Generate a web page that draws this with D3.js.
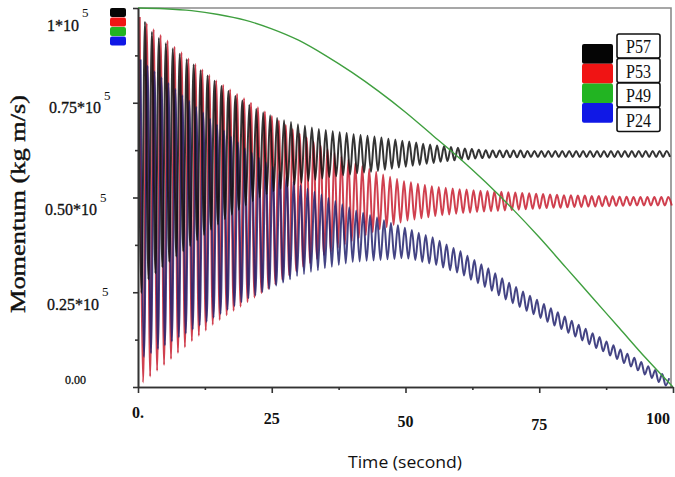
<!DOCTYPE html>
<html>
<head>
<meta charset="utf-8">
<script src="https://cdn.jsdelivr.net/npm/d3@7"></script>
<style>
  body { margin: 0; background: #fff; }
  svg { display: block; }
</style>
</head>
<body>
<div id="chart-area"></div>
<script>
// momentum in units of 10^5 kg m/s
const seriesNames = ["P57", "P53", "P49", "P24"];

// oscillating series: successive crests and troughs, one every halfPeriod seconds
const halfPeriod = 0.65;
const p57Start = 0;
const p57Values = [
  1.000, .248, .964, .284, .937, .300, .921, .316, .907, .330,
  .893, .344, .879, .358, .865, .372, .851, .387, .836, .401,
  .822, .415, .808, .429, .794, .443, .781, .455, .768, .468,
  .756, .479, .745, .490, .734, .500, .725, .509, .717, .517,
  .710, .523, .704, .529, .699, .534, .693, .539, .689, .544,
  .685, .547, .681, .550, .678, .554, .675, .556, .672, .559,
  .670, .561, .667, .564, .665, .566, .663, .568, .661, .570,
  .658, .573, .655, .576, .653, .579, .650, .581, .648, .584,
  .645, .586, .642, .589, .640, .591, .637, .594, .635, .596,
  .633, .598, .631, .600, .629, .601, .628, .603, .626, .604,
  .625, .605, .624, .606, .624, .606, .624, .606, .624, .606,
  .624, .606, .623, .607, .623, .607, .623, .607, .623, .607,
  .623, .607, .623, .607, .623, .607, .623, .607, .623, .607,
  .623, .607, .623, .607, .623, .607, .623, .607, .623, .607,
  .623, .607, .623, .607, .623, .607, .623, .607, .623, .607,
  .623, .607, .623, .607
];
const p53Start = 0.32;
const p53Values = [
  .976, .012, .960, .028, .944, .043, .929, .058, .914, .074,
  .898, .090, .883, .105, .867, .121, .852, .135, .838, .149,
  .823, .164, .809, .177, .797, .189, .785, .201, .773, .212,
  .762, .224, .750, .236, .738, .248, .727, .259, .715, .271,
  .703, .283, .691, .294, .680, .306, .668, .317, .658, .327,
  .647, .338, .637, .348, .627, .357, .618, .367, .609, .376,
  .600, .385, .591, .393, .583, .400, .576, .408, .568, .416,
  .561, .422, .555, .428, .549, .434, .543, .439, .540, .442,
  .536, .445, .533, .448, .530, .451, .528, .453, .526, .455,
  .524, .457, .522, .459, .521, .460, .519, .462, .518, .463,
  .517, .464, .516, .465, .515, .466, .514, .467, .513, .468,
  .512, .469, .511, .470, .510, .471, .509, .472, .508, .473,
  .507, .473, .506, .474, .506, .475, .505, .475, .505, .476,
  .504, .476, .504, .477, .503, .477, .503, .478, .502, .478,
  .502, .479, .501, .479, .501, .479, .501, .479, .501, .479,
  .501, .479, .501, .479
];
const p24Start = 0.48;
const p24Values = [
  .864, .079, .848, .089, .833, .100, .817, .110, .802, .120,
  .786, .131, .770, .141, .755, .152, .739, .162, .724, .172,
  .708, .183, .692, .193, .677, .204, .661, .214, .646, .224,
  .630, .234, .618, .242, .605, .251, .593, .259, .581, .268,
  .568, .276, .556, .284, .543, .293, .532, .298, .524, .304,
  .516, .308, .508, .313, .499, .317, .491, .322, .482, .326,
  .474, .330, .466, .331, .460, .333, .453, .334, .447, .335,
  .440, .337, .433, .338, .427, .340, .420, .339, .414, .335,
  .407, .330, .401, .326, .395, .322, .386, .315, .376, .308,
  .367, .302, .358, .294, .346, .283, .335, .274, .324, .264,
  .313, .254, .300, .242, .287, .231, .275, .221, .264, .211,
  .252, .201, .241, .192, .230, .182, .219, .172, .208, .162,
  .197, .153, .186, .143, .175, .133, .164, .123, .154, .113,
  .142, .103, .132, .094, .120, .083, .110, .074, .099, .063,
  .088, .054, .077, .044, .066, .033, .055, .024, .045, .013,
  .034, .004, .023
];

// smooth series
const p49Times = [0, 5, 10, 15, 20, 25, 30, 35, 40, 45, 50, 55, 60, 65, 70, 75, 80, 85, 90, 95, 100];
const p49Values = [1.0, .998, .993, .983, .968, .945, .915, .875, .83, .78, .725, .665, .605, .54, .47, .395, .315, .235, .155, .075, 0.0];

const xTicks = [0, 25, 50, 75, 100];
const xTickLabels = ["0.", "25", "50", "75", "100"];
const yTicks = [0, 0.25, 0.5, 0.75, 1];
const yTickLabels = ["0.00", "0.25*10", "0.50*10", "0.75*10", "1*10"];
const yTickPowers = ["", "5", "5", "5", "5"];

const lineColors = { P57: "#111111", P53: "#c81e30", P49: "#3f9f3f", P24: "#23236e" };
const swatchColors = { P57: "#050505", P53: "#f01414", P49: "#22b422", P24: "#1018e6" };

const toPoints = (start, values) =>
  values.map((v, i) => ({ t: start + i * halfPeriod, v }));

const drawChart = () => {
  const chartSize = { width: 675, height: 477 };
  const margin = { left: 138, right: 2, top: 8, bottom: 90 };
  const width = chartSize.width - (margin.left + margin.right);
  const height = chartSize.height - (margin.top + margin.bottom);

  const x = d3.scaleLinear().domain([0, 100]).range([0, width]);
  const y = d3.scaleLinear().domain([0, 1]).range([height, 0]);

  const svg = d3
    .select("#chart-area")
    .append("svg")
    .attr("width", chartSize.width)
    .attr("height", chartSize.height);

  const g = svg
    .append("g")
    .attr("transform", `translate(${margin.left}, ${margin.top})`);

  g.append("clipPath")
    .attr("id", "plot-clip")
    .append("rect")
    .attr("x", 0)
    .attr("y", -2)
    .attr("width", width)
    .attr("height", height + 2);

  // grey frame top and right
  g.append("path")
    .attr("d", `M0,0H${x(100) - 2}V${height}`)
    .attr("fill", "none")
    .attr("stroke", "#8a8a8a")
    .attr("stroke-width", 1.6);

  const line = d3
    .line()
    .x(d => x(d.t))
    .y(d => y(d.v))
    .curve(d3.curveMonotoneX);

  const plot = g.append("g").attr("clip-path", "url(#plot-clip)");

  const oscillating = [
    { name: "P53", points: toPoints(p53Start, p53Values) },
    { name: "P24", points: toPoints(p24Start, p24Values) },
    { name: "P57", points: toPoints(p57Start, p57Values) }
  ];

  plot
    .selectAll("path.osc")
    .data(oscillating)
    .enter()
    .append("path")
    .attr("class", "osc")
    .attr("d", s => line(s.points))
    .attr("fill", "none")
    .attr("stroke", s => lineColors[s.name])
    .attr("stroke-opacity", 0.85)
    .attr("stroke-width", 2);

  plot
    .append("path")
    .datum(p49Times.map((t, i) => ({ t, v: p49Values[i] })))
    .attr("d", line)
    .attr("fill", "none")
    .attr("stroke", lineColors.P49)
    .attr("stroke-width", 1.4);

  // axes
  const minorX = d3.range(12.5, 100, 25);
  const minorY = d3.range(0.125, 1, 0.25);

  const xAxis = d3.axisBottom(x).tickValues(xTicks).tickFormat("").tickSize(6).tickSizeOuter(0);
  const xMinor = d3.axisBottom(x).tickValues(minorX).tickFormat("").tickSize(3).tickSizeOuter(0);
  const yAxis = d3.axisLeft(y).tickValues(yTicks).tickFormat("").tickSize(5).tickSizeOuter(0);
  const yMinor = d3.axisLeft(y).tickValues(minorY).tickFormat("").tickSize(3).tickSizeOuter(0);

  [xAxis, xMinor].forEach(a =>
    g.append("g").attr("class", "x-axis").attr("transform", `translate(0, ${height})`).call(a)
  );
  [yAxis, yMinor].forEach(a => g.append("g").attr("class", "y-axis").call(a));

  g.selectAll(".x-axis path, .y-axis path")
    .attr("stroke", "#333")
    .attr("stroke-width", 1.6);
  g.selectAll(".x-axis line, .y-axis line")
    .attr("stroke", "#333")
    .attr("stroke-width", 1.6);

  // x tick labels
  const xLabelBase = [410, 416, 419, 422, 416];
  g.selectAll("text.x-label")
    .data(xTicks)
    .enter()
    .append("text")
    .attr("class", "x-label")
    .attr("x", (d, i) => (i === xTicks.length - 1 ? x(d) - 3 : x(d)))
    .attr("y", (d, i) => xLabelBase[i])
    .attr("text-anchor", (d, i) => (i === xTicks.length - 1 ? "end" : "middle"))
    .attr("font-family", "Liberation Serif, serif")
    .attr("font-weight", "bold")
    .attr("font-size", 16)
    .attr("fill", "#111")
    .text((d, i) => xTickLabels[i]);

  // y tick labels with power of ten
  const yLabelEnd = [86, 99, 97, 101, 79];
  const yLabelShift = [-7, 12, 12, 5, 17];
  const yl = svg
    .selectAll("g.y-label")
    .data(yTicks)
    .enter()
    .append("g")
    .attr("class", "y-label")
    .attr("transform", (d, i) => `translate(${yLabelEnd[i]}, ${margin.top + y(d) + yLabelShift[i]})`);

  yl.append("text")
    .attr("text-anchor", "end")
    .attr("dy", "0.35em")
    .attr("font-family", "Liberation Serif, serif")
    .attr("font-size", (d, i) => (i === 0 ? 12 : 16))
    .attr("fill", "#111")
    .attr("stroke", "#111")
    .attr("stroke-width", 0.3)
    .text((d, i) => yTickLabels[i]);

  yl.append("text")
    .attr("x", 3)
    .attr("y", -8)
    .attr("font-family", "Liberation Serif, serif")
    .attr("font-size", 13)
    .attr("fill", "#111")
    .text((d, i) => yTickPowers[i]);

  // axis titles
  svg
    .append("text")
    .attr("transform", "translate(18, 204) rotate(-90)")
    .attr("text-anchor", "middle")
    .attr("dy", "0.35em")
    .attr("font-family", "Liberation Serif, serif")
    .attr("font-size", 20)
    .attr("textLength", 218)
    .attr("lengthAdjust", "spacingAndGlyphs")
    .attr("fill", "#111")
    .attr("stroke", "#111")
    .attr("stroke-width", 0.4)
    .text("Momentum (kg m/s)");

  svg
    .append("text")
    .attr("x", 405)
    .attr("y", 468)
    .attr("text-anchor", "middle")
    .attr("font-family", "Open Sans, sans-serif")
    .attr("font-size", 17)
    .attr("textLength", 114)
    .attr("lengthAdjust", "spacingAndGlyphs")
    .attr("fill", "#111")
    .text("Time (second)");

  // small colour key beside the top tick
  svg
    .selectAll("rect.mini")
    .data(seriesNames)
    .enter()
    .append("rect")
    .attr("class", "mini")
    .attr("x", 110)
    .attr("y", (d, i) => 8 + i * 9.5)
    .attr("width", 16)
    .attr("height", 9)
    .attr("rx", 2)
    .attr("fill", d => swatchColors[d]);

  // legend at right
  const legend = svg
    .selectAll("g.legend")
    .data(seriesNames)
    .enter()
    .append("g")
    .attr("class", "legend");

  legend
    .append("rect")
    .attr("x", 582)
    .attr("y", (d, i) => 44 + i * 19.7)
    .attr("width", 31)
    .attr("height", 19.7)
    .attr("rx", 2)
    .attr("fill", d => swatchColors[d]);

  legend
    .append("rect")
    .attr("x", 617)
    .attr("y", (d, i) => 34 + i * 24.5)
    .attr("width", 43)
    .attr("height", 24)
    .attr("rx", 2)
    .attr("fill", "#fff")
    .attr("stroke", "#111")
    .attr("stroke-width", 1.6);

  legend
    .append("text")
    .attr("x", 638.5)
    .attr("y", (d, i) => 53 + i * 24.5)
    .attr("text-anchor", "middle")
    .attr("font-family", "Liberation Serif, serif")
    .attr("font-size", 18)
    .attr("textLength", 25)
    .attr("lengthAdjust", "spacingAndGlyphs")
    .attr("fill", "#111")
    .text(d => d);
};

window.onload = drawChart;
</script>
</body>
</html>
